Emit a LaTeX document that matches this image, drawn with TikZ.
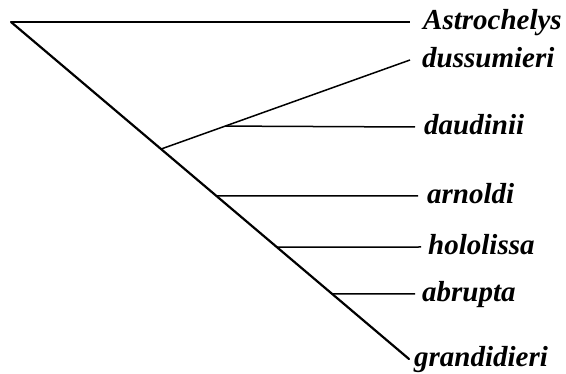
\documentclass[tikz,border=0pt]{standalone}
\usepackage{fontspec}
\setmainfont{Liberation Serif}
\usetikzlibrary{calc}

\begin{document}
\begin{tikzpicture}[
  x=1pt,y=-1pt,
  tip/.style={anchor=west,inner xsep=7pt,inner ysep=0pt,
              font=\fontsize{29}{31}\selectfont\bfseries\itshape,
              text height=20pt,text depth=4pt},
  br/.style={line width=1.5pt},
  stem/.style={line width=2.2pt,line cap=round}
]
\useasboundingbox (0,0) rectangle (566,374);

% taxa
\node[tip,inner xsep=13pt] (Ast) at (410,22)  {Astrochelys};
\node[tip,inner xsep=12pt] (dus) at (410,60)  {dussumieri};
\node[tip,inner xsep=9pt] (dau) at (415,127) {daudinii};
\node[tip,inner xsep=9pt] (arn) at (418,196) {arnoldi};
\node[tip] (hol) at (421,247) {hololissa};
\node[tip] (abr) at (415,294) {abrupta};
\node[tip,inner xsep=5pt] (gra) at (409,359) {grandidieri};

% internal nodes
\coordinate (root) at (11,22);
\coordinate (n1) at ($(root)!0.377!(gra.west)$);
\coordinate (n2) at ($(n1)!0.258!(dus.west)$);
\coordinate (n3) at ($(root)!0.516!(gra.west)$);
\coordinate (n4) at ($(root)!0.668!(gra.west)$);
\coordinate (n5) at ($(root)!0.807!(gra.west)$);

% branches
\draw[br] (root) -- (Ast.west);
\draw[stem] (root) -- (gra.west);
\draw[br] (n1) -- (dus.west);
\draw[br] (n2) -- (dau.west);
\draw[br] (n3) -- (arn.west);
\draw[br] (n4) -- (hol.west);
\draw[br] (n5) -- (abr.west);

\end{tikzpicture}
\end{document}
